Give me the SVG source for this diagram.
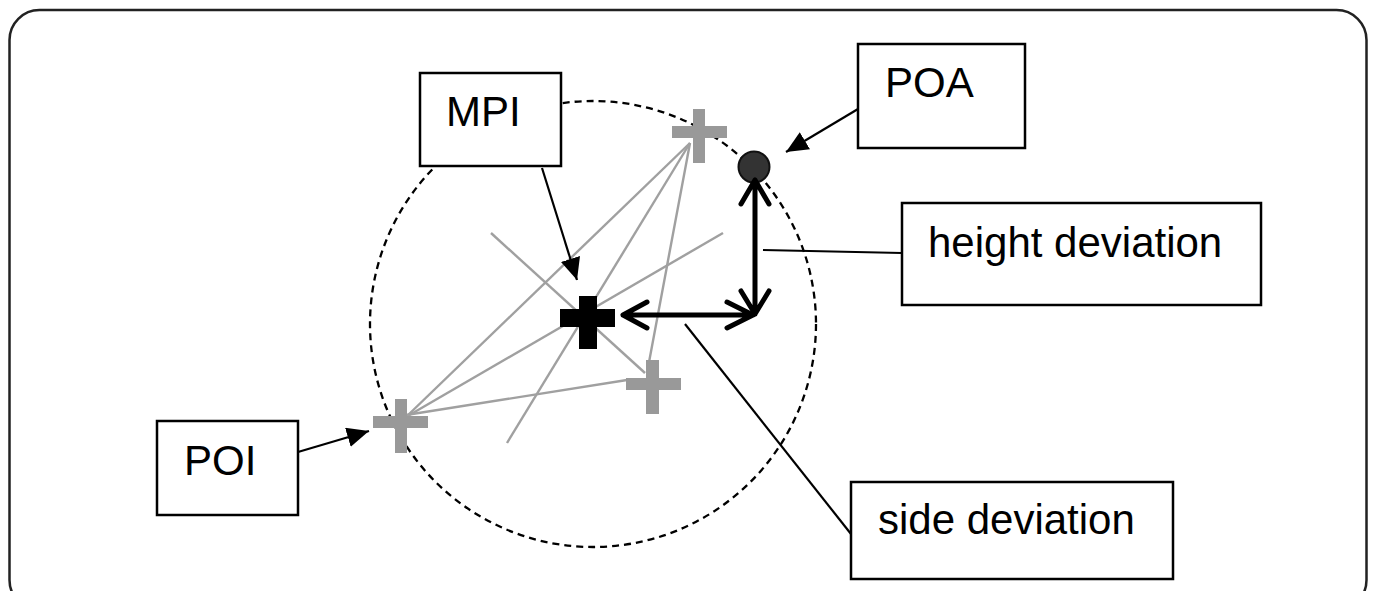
<svg xmlns="http://www.w3.org/2000/svg" width="1375" height="591" viewBox="0 0 1375 591">
<style>
.box{fill:#fff;stroke:#000;stroke-width:2.5}
.lbl{font-family:"Liberation Sans",Arial,sans-serif;font-size:42px;fill:#000}
.gl{stroke:#a0a0a0;stroke-width:2.4;fill:none}
.gc{fill:#999}
.con{stroke:#000;stroke-width:2.2;fill:none}
.dbl{stroke:#000;stroke-width:5;fill:none;stroke-linecap:round;stroke-linejoin:round}
</style>
<defs>
<marker id="ah" viewBox="0 0 22 20" refX="22" refY="10" markerWidth="22" markerHeight="20" markerUnits="userSpaceOnUse" orient="auto">
<path d="M0,0 L22,10 L0,20 z" fill="#000"/>
</marker>
</defs>
<rect x="0" y="0" width="1375" height="591" fill="#fff"/>
<rect id="frame" x="9.5" y="10" width="1357" height="600" rx="30" ry="30" fill="none" stroke="#222" stroke-width="2.5"/>
<circle id="dispersion" cx="593" cy="324" r="223" fill="none" stroke="#000" stroke-width="2.3" stroke-dasharray="7,5"/>
<g id="lines">
<line class="gl" x1="690" y1="143" x2="406" y2="417"/>
<line class="gl" x1="690" y1="143" x2="507" y2="443"/>
<line class="gl" x1="690" y1="143" x2="647" y2="373"/>
<line class="gl" x1="491" y1="233" x2="645" y2="373"/>
<line class="gl" x1="723" y1="233" x2="406" y2="417"/>
<line class="gl" x1="406" y1="415" x2="627" y2="380"/>
</g>
<g id="poi-top" class="gc"><rect x="672" y="126" width="55" height="12"/><rect x="693" y="109" width="12" height="54"/></g>
<g id="poi-right" class="gc"><rect x="626" y="378" width="55" height="12"/><rect x="646" y="360" width="13" height="54"/></g>
<g id="poi-left" class="gc"><rect x="373" y="416" width="55" height="12"/><rect x="395" y="399" width="12" height="54"/></g>
<g id="mpi-cross" fill="#000"><rect x="560" y="309" width="55" height="18"/><rect x="579" y="296" width="18" height="53"/></g>
<g id="poa-point"><circle cx="754" cy="167" r="15.5" fill="#333" stroke="#111" stroke-width="2"/></g>
<g id="connectors">
<line class="con" x1="542" y1="168" x2="577" y2="280" marker-end="url(#ah)"/>
<line class="con" x1="858" y1="109" x2="786" y2="152" marker-end="url(#ah)"/>
<line class="con" x1="298" y1="452" x2="369" y2="431" marker-end="url(#ah)"/>
<line class="con" x1="763" y1="250" x2="902" y2="253"/>
<line class="con" x1="685" y1="324" x2="851" y2="534"/>
<path class="dbl" d="M755,180 L755,314 M741,204 L755,180 L769,204 M741,291 L755,314 L769,291"/>
<path class="dbl" d="M623,315 L753,315 M647,302 L623,315 L647,328 M727,302 L753,315 L727,328"/>
</g>
<g id="mpi"><rect class="box" x="420" y="73" width="141" height="93"/><text class="lbl" x="446" y="126">MPI</text></g>
<g id="poa"><rect class="box" x="858" y="44" width="167" height="104"/><text class="lbl" x="885" y="97">POA</text></g>
<g id="height"><rect class="box" x="902" y="203" width="359" height="102"/><text class="lbl" x="928" y="257">height deviation</text></g>
<g id="side"><rect class="box" x="851" y="482" width="322" height="97"/><text class="lbl" x="878" y="534">side deviation</text></g>
<g id="poi"><rect class="box" x="157" y="421" width="141" height="94"/><text class="lbl" x="184" y="475">POI</text></g>
</svg>
